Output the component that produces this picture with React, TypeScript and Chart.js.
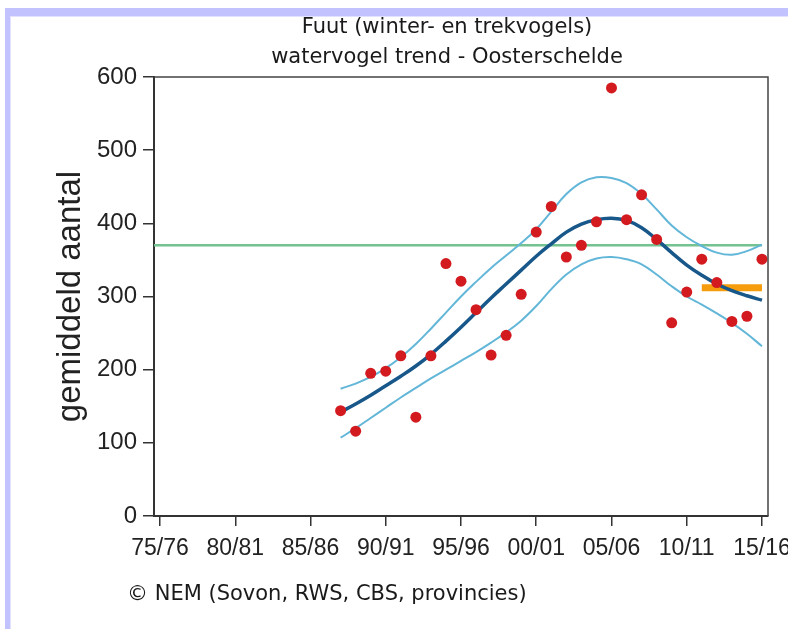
import React, { useEffect, useRef } from "react";
import { Chart, registerables } from "chart.js";

Chart.register(...registerables);

// ---- data ----
const seasons = [1987, 1988, 1989, 1990, 1991, 1992, 1993, 1994, 1995, 1996, 1997, 1998, 1999, 2000, 2001, 2002, 2003, 2004, 2005, 2006, 2007, 2008, 2009, 2010, 2011, 2012, 2013, 2014, 2015];
const counts = [144, 116, 195, 198, 219, 135, 219, 345, 321, 282, 220, 247, 303, 388, 423, 354, 370, 402, 585, 405, 439, 378, 264, 306, 351, 319, 266, 273, 351];
const trend = [142, 153, 165, 178, 191, 205, 221, 239, 258, 278, 298, 317, 336, 355, 372, 388, 399, 405, 407, 404, 394, 378, 360, 343, 329, 317, 308, 301, 295];
const upperBand = [174, 181, 190, 202, 217, 235, 256, 278, 300, 320, 339, 356, 373, 392, 416, 440, 456, 463, 462, 455, 440, 419, 397, 381, 369, 360, 357, 362, 371];
const lowerBand = [107, 120, 134, 148, 162, 175, 188, 200, 212, 224, 237, 251, 267, 287, 310, 330, 344, 352, 354, 351, 344, 330, 314, 300, 289, 277, 264, 249, 232];
const tickYears = [1975, 1980, 1985, 1990, 1995, 2000, 2005, 2010, 2015];
const tickLabels = ["75/76", "80/81", "85/86", "90/91", "95/96", "00/01", "05/06", "10/11", "15/16"];
const yTicks = [0, 100, 200, 300, 400, 500, 600];
const referenceLevel = 370;
const recentMean = 312;
const recentSeasons = [2011, 2015];
const titleLines = ["Fuut (winter- en trekvogels)", "watervogel trend - Oosterschelde"];
const yTitle = "gemiddeld aantal";
const credit = "\u00A9 NEM (Sovon, RWS, CBS, provincies)";

const X_MIN = 1974.6;
const X_MAX = 2015.4;

const pts = (ys: number[]) => ys.map((y, i) => ({ x: seasons[i], y }));

const framePlugin = {
  id: "frame",
  afterDraw(chart: any) {
    const { ctx, chartArea } = chart;
    ctx.save();
    ctx.strokeStyle = "#444";
    ctx.lineWidth = 1.5;
    ctx.beginPath();
    ctx.moveTo(chartArea.left, chartArea.top);
    ctx.lineTo(chartArea.right, chartArea.top);
    ctx.lineTo(chartArea.right, chartArea.bottom);
    ctx.stroke();
    // title, centred a little left of the plot area's middle
    ctx.fillStyle = "#1a1a1a";
    ctx.font = "21px 'DejaVu Sans'";
    ctx.textAlign = "center";
    ctx.textBaseline = "middle";
    const cx = (chartArea.left + chartArea.right) / 2 - 14;
    titleLines.forEach((line, i) => {
      ctx.fillText(line, cx, 28 + i * 30);
    });
    ctx.restore();
  },
};

export default function App() {
  const ref = useRef<HTMLCanvasElement | null>(null);

  useEffect(() => {
    if (!ref.current) return;
    const chart = new Chart(ref.current, {
      type: "scatter",
      data: {
        datasets: [
          {
            label: "tellingen",
            data: pts(counts),
            backgroundColor: "#d21a1f",
            borderWidth: 0,
            pointRadius: 5.5,
            showLine: false,
          },
          {
            label: "trend",
            data: pts(trend),
            borderColor: "#18578a",
            borderWidth: 3.5,
            pointRadius: 0,
            showLine: true,
            tension: 0.4,
            fill: false,
          },
          {
            label: "boven",
            data: pts(upperBand),
            borderColor: "#62b6d8",
            borderWidth: 2,
            pointRadius: 0,
            showLine: true,
            tension: 0.4,
          },
          {
            label: "onder",
            data: pts(lowerBand),
            borderColor: "#62b6d8",
            borderWidth: 2,
            pointRadius: 0,
            showLine: true,
            tension: 0.4,
          },
          {
            label: "gemiddelde laatste 5 jaar",
            data: recentSeasons.map((x) => ({ x, y: recentMean })),
            borderColor: "#f59d0c",
            borderWidth: 7,
            pointRadius: 0,
            showLine: true,
          },
          {
            label: "referentie",
            data: [
              { x: X_MIN, y: referenceLevel },
              { x: seasons[seasons.length - 1], y: referenceLevel },
            ],
            borderColor: "#74c290",
            borderWidth: 2.5,
            pointRadius: 0,
            showLine: true,
          },
        ],
      },
      options: {
        animation: false,
        responsive: false,
        maintainAspectRatio: false,
        layout: { padding: { left: 0, right: 20, top: 77, bottom: 0 } },
        plugins: {
          legend: { display: false },
          tooltip: { enabled: false },
          title: { display: false },
        },
        scales: {
          x: {
            type: "linear",
            min: X_MIN,
            max: X_MAX,
            afterBuildTicks: (scale: any) => {
              scale.ticks = tickYears.map((v) => ({ value: v }));
            },
            afterFit: (scale: any) => {
              scale.height = 113;
              scale.paddingLeft = 0;
              scale.paddingRight = 0;
            },
            ticks: {
              autoSkip: false,
              maxRotation: 0,
              color: "#222",
              font: { family: "Liberation Sans", size: 23 },
              padding: 9,
              callback: (v: any) => {
                const i = tickYears.indexOf(Number(v));
                return i >= 0 ? tickLabels[i] : "";
              },
            },
            grid: { drawOnChartArea: false, tickLength: 10, color: "#333", lineWidth: 1.5 },
            border: { display: true, color: "#333", width: 2 },
          },
          y: {
            type: "linear",
            min: 0,
            max: 600,
            afterBuildTicks: (scale: any) => {
              scale.ticks = yTicks.map((v) => ({ value: v }));
            },
            afterFit: (scale: any) => {
              scale.width = 154;
            },
            ticks: {
              color: "#222",
              font: { family: "Liberation Sans", size: 24 },
              padding: 6,
            },
            grid: { drawOnChartArea: false, tickLength: 11, color: "#333", lineWidth: 1.5 },
            border: { display: true, color: "#333", width: 2 },
            title: {
              display: true,
              text: yTitle,
              color: "#222",
              font: { family: "Liberation Sans", size: 33 },
              padding: { top: 51, bottom: 0 },
            },
          },
        },
      },
      plugins: [framePlugin],
    });
    return () => chart.destroy();
  }, []);

  return (
    <div style={{ position: "absolute", left: 0, top: 0, width: 788, height: 629, background: "#fff", overflow: "hidden" }}>
      <div style={{ position: "absolute", left: 5, top: 8, width: 783, height: 8, background: "#c2c2ff" }} />
      <div style={{ position: "absolute", left: 5, top: 16, width: 783, height: 1, background: "#e2e2ff" }} />
      <div style={{ position: "absolute", left: 5, top: 8, width: 5, height: 621, background: "#c2c2ff" }} />
      <div style={{ position: "absolute", left: 10, top: 16, width: 1, height: 613, background: "#e2e2ff" }} />
      <canvas ref={ref} width={788} height={629} style={{ position: "absolute", left: 0, top: 0 }} />
      <div
        style={{
          position: "absolute",
          left: 127,
          top: 580,
          fontFamily: "DejaVu Sans",
          fontSize: 21,
          color: "#1a1a1a",
          whiteSpace: "nowrap",
          lineHeight: "26px",
        }}
      >
        {credit}
      </div>
    </div>
  );
}
